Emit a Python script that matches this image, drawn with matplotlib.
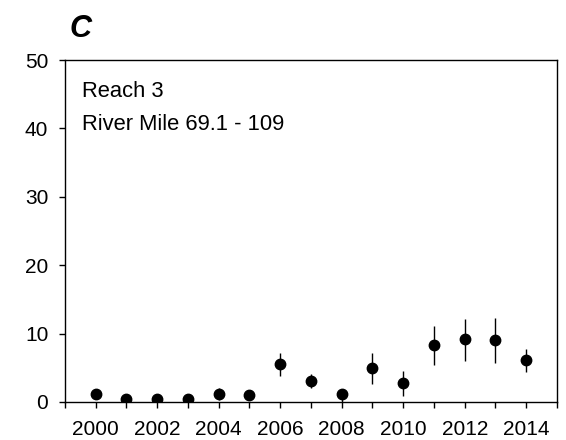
import numpy as np
import matplotlib.pyplot as plt

plt.rcParams['font.family'] = ['Liberation Sans', 'DejaVu Sans']

years = [2000, 2001, 2002, 2003, 2004, 2005, 2006, 2007, 2008, 2009, 2010, 2011, 2012, 2013, 2014]
mean = [1.2, 0.4, 0.5, 0.4, 1.1, 1.0, 5.5, 3.1, 1.1, 5.0, 2.8, 8.3, 9.2, 9.1, 6.1]
upper = [1.4, 0.5, 0.6, 0.5, 2.0, 1.2, 7.1, 4.1, 1.6, 7.1, 4.6, 11.1, 12.2, 12.3, 7.7]
lower = [1.0, 0.3, 0.4, 0.3, 0.3, 0.8, 3.8, 2.0, -0.7, 2.7, 0.9, 5.4, 6.0, 5.7, 4.4]

mean = np.array(mean)
yerr = [mean - np.array(lower), np.array(upper) - mean]

fig = plt.figure(figsize=(5.66, 4.40), dpi=100)
ax = fig.add_axes([0.1148, 0.0864, 0.8692, 0.7772])

ax.errorbar(years, mean, yerr=yerr, fmt='o', color='black', ms=7.5,
            elinewidth=1, capsize=0)

ax.set_xlim(1999, 2015)
ax.set_ylim(0, 50)
ax.set_xticks(range(1999, 2016))
ax.set_xticklabels([str(y) if y % 2 == 0 and 2000 <= y <= 2014 else '' for y in range(1999, 2016)])
ax.set_yticks([0, 10, 20, 30, 40, 50])
ax.tick_params(direction='out', length=4, width=1, labelsize=15)
ax.tick_params(axis='x', pad=9)
ax.tick_params(axis='y', pad=8)
for s in ax.spines.values():
    s.set_linewidth(1)

ax.text(0.034, 0.891, 'Reach 3', transform=ax.transAxes, fontsize=15.8, va='baseline')
ax.text(0.034, 0.795, 'River Mile 69.1 - 109', transform=ax.transAxes, fontsize=15.8, va='baseline')
fig.text(70 / 566, 1 - 37 / 440, 'C', fontsize=22, fontweight='bold', fontstyle='italic', va='baseline')

fig.savefig('out.png', dpi=100)
